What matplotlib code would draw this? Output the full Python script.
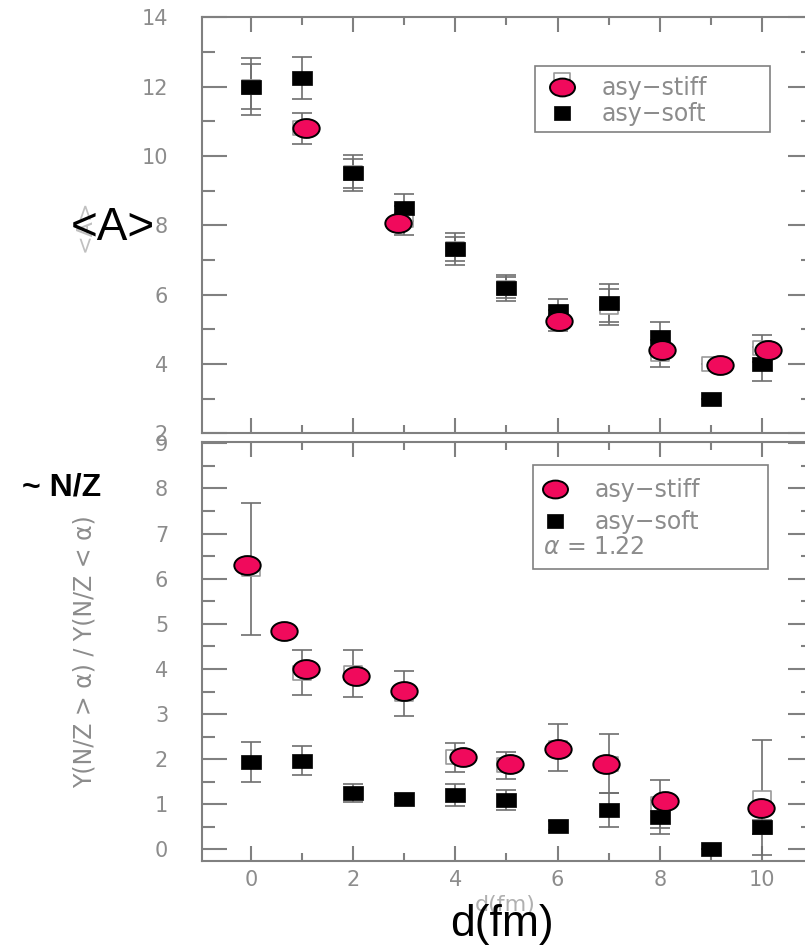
import numpy as np
import matplotlib
matplotlib.use("Agg")
import matplotlib.pyplot as plt
from matplotlib.path import Path
from matplotlib.transforms import Affine2D
from matplotlib.lines import Line2D
from matplotlib.patches import Rectangle
from matplotlib.legend_handler import HandlerTuple
from matplotlib.ticker import MultipleLocator

# ── data ────────────────────────────────────────────────────────────
d = [0, 1, 2, 3, 4, 5, 6, 7, 8, 9, 10]

# <A> panel
top_soft_y = [12.0, 12.25, 9.52, 8.51, 7.32, 6.19, 5.54, 5.75, 4.79, 3.0, 4.0]
top_soft_err = [0.83, 0.6, 0.52, 0.38, 0.47, 0.38, 0.34, 0.55, 0.42, 0.0, 0.5]
top_stiff_y = [12.0, 10.8, 9.5, 8.15, 7.32, 6.2, 5.25, 5.65, 4.3, 4.0, 4.45]
top_stiff_err = [0.65, 0.45, 0.42, 0.42, 0.35, 0.3, 0.3, 0.52, 0.38, 0.0, 0.38]
top_pink_x = [1.07, 2.88, 6.02, 8.05, 9.17, 10.12]
top_pink_y = [10.8, 8.08, 5.23, 4.39, 3.98, 4.4]

# N/Z ratio panel
bot_soft_y = [1.94, 1.97, 1.24, 1.11, 1.20, 1.09, 0.52, 0.87, 0.72, 0.0, 0.50]
bot_soft_err = [0.45, 0.33, 0.2, 0.1, 0.24, 0.22, 0.1, 0.38, 0.37, 0.0, 0.15]
bot_stiff_y = [6.22, 3.92, 3.9, 3.45, 2.04, 1.86, 2.25, 1.9, 1.0, np.nan, 1.15]
bot_stiff_err = [1.46, 0.5, 0.53, 0.5, 0.32, 0.3, 0.52, 0.65, 0.53, 0.0, 1.27]
bot_pink_x = [-0.07, 0.65, 1.08, 2.05, 2.99, 4.14, 5.07, 6.0, 6.95, 8.1, 9.98]
bot_pink_y = [6.30, 4.83, 4.0, 3.85, 3.52, 2.05, 1.90, 2.22, 1.90, 1.08, 0.92]

# ── style ───────────────────────────────────────────────────────────
W, H = 805, 946
GRAY = "#808080"
LABEL = "#8c8c8c"
EBAR = "#6e6e6e"
PINK = "#f00a5c"


def fx(px):
    return px / W


def fy(py):
    return 1 - py / H


ELLIPSE = Path.unit_circle().transformed(Affine2D().scale(1.4, 1.0))
RECT = Path([(-0.65, -0.5), (0.65, -0.5), (0.65, 0.5), (-0.65, 0.5), (-0.65, -0.5)], closed=True)
# same box, lifted above the handle centre (legend only)
RECT_UP = Path([(-0.65, 0.2), (0.65, 0.2), (0.65, 1.2), (-0.65, 1.2), (-0.65, 0.2)], closed=True)
SQ_MS = 13.7
EL_MS = 19


def style_axes(ax):
    for s in ax.spines.values():
        s.set_color(GRAY)
        s.set_linewidth(1.5)
    ax.tick_params(axis="both", which="both", direction="in", top=True, right=True,
                   color=GRAY, width=1.5, labelcolor=LABEL, labelsize=15)
    ax.tick_params(axis="y", which="major", length=18, pad=24)
    ax.tick_params(axis="y", which="minor", length=9)
    ax.tick_params(axis="x", which="major", length=11, pad=7)
    ax.tick_params(axis="x", which="minor", length=5.7)
    ax.xaxis.set_major_locator(MultipleLocator(2))
    ax.xaxis.set_minor_locator(MultipleLocator(1))
    ax.set_xlim(-0.97, 11.0)


def draw_series(ax, soft_y, soft_err, stiff_y, stiff_err, pink_x, pink_y):
    ax.errorbar(d, stiff_y, yerr=stiff_err, fmt="none", ecolor=EBAR, elinewidth=1.2,
                capsize=7, capthick=1.2, zorder=2)
    ax.errorbar(d, soft_y, yerr=soft_err, fmt="none", ecolor=EBAR, elinewidth=1.2,
                capsize=7, capthick=1.2, zorder=2)
    ax.plot(d, stiff_y, ls="none", marker=RECT, ms=SQ_MS - 0.5, mfc="white", mec="#9a9a9a",
            mew=1.2, zorder=3)
    ax.plot(d, soft_y, ls="none", marker=RECT, ms=SQ_MS, mfc="black", mec="black",
            mew=0.5, zorder=4)
    ax.plot(pink_x, pink_y, ls="none", marker=ELLIPSE, ms=EL_MS, mfc=PINK, mec="black",
            mew=1.4, zorder=5)


fig = plt.figure(figsize=(W / 100, H / 100), dpi=100)
ax_top = fig.add_axes([fx(201.5), fy(433.3), (813 - 201.5) / W, 416 / H])
ax_bot = fig.add_axes([fx(201.5), fy(860.7), (813 - 201.5) / W, 418.7 / H])

for ax in (ax_top, ax_bot):
    style_axes(ax)

ax_top.set_ylim(2, 14)
ax_top.yaxis.set_major_locator(MultipleLocator(2))
ax_top.yaxis.set_minor_locator(MultipleLocator(1))
ax_top.tick_params(axis="x", labelbottom=False)

ax_bot.set_ylim(-0.25, 9.03)
ax_bot.yaxis.set_major_locator(MultipleLocator(1))
ax_bot.yaxis.set_minor_locator(MultipleLocator(0.5))

draw_series(ax_top, top_soft_y, top_soft_err, top_stiff_y, top_stiff_err, top_pink_x, top_pink_y)
draw_series(ax_bot, bot_soft_y, bot_soft_err, bot_stiff_y, bot_stiff_err, bot_pink_x, bot_pink_y)

# ── legends ─────────────────────────────────────────────────────────
h_hollow = Line2D([], [], ls="none", marker=RECT_UP, ms=20, mfc="white", mec="#9a9a9a", mew=1.2)
h_pink = Line2D([], [], ls="none", marker=ELLIPSE, ms=EL_MS - 1, mfc=PINK, mec="black", mew=1.4)
h_soft = Line2D([], [], ls="none", marker=RECT, ms=SQ_MS - 1.5, mfc="black", mec="black", mew=0.5)

leg_kw = dict(frameon=False, borderpad=0, borderaxespad=0, handlelength=1.6,
              handletextpad=0.9, fontsize=17, labelcolor=LABEL, loc="upper left",
              bbox_transform=fig.transFigure)

ax_top.legend([(h_hollow, h_pink), h_soft], ["asy\u2212stiff", "asy\u2212soft"],
              handler_map={tuple: HandlerTuple(ndivide=1, pad=0)},
              bbox_to_anchor=(fx(543), fy(76)), labelspacing=0.08, **leg_kw)
ax_bot.legend([h_pink, h_soft], ["asy\u2212stiff", "asy\u2212soft"],
              bbox_to_anchor=(fx(536), fy(478)), labelspacing=0.36, **leg_kw)

for (x0, y0, x1, y1) in [(535, 66, 770, 132), (533, 465, 768, 569)]:
    fig.add_artist(Rectangle((fx(x0), fy(y1)), (x1 - x0) / W, (y1 - y0) / H,
                             transform=fig.transFigure, fill=False,
                             edgecolor=GRAY, linewidth=1.2))

fig.text(fx(543), fy(547), r"$\alpha$ = 1.22", color=LABEL, fontsize=17, va="center")

# ── axis labels ─────────────────────────────────────────────────────
fig.text(fx(85), fy(226), "<A>", rotation=90, color="#c0c0c0", fontsize=16,
         ha="center", va="center")
fig.text(fx(113), fy(228), "<A>", fontsize=33, family="Liberation Sans",
         ha="center", va="center")
fig.text(fx(62), fy(487), "~ N/Z", fontsize=23, weight="bold", family="Liberation Sans",
         ha="center", va="center")
fig.text(fx(85), fy(652), "Y(N/Z > \u03b1) / Y(N/Z < \u03b1)", rotation=90, color=LABEL,
         fontsize=17, ha="center", va="center")
fig.text(fx(505), fy(905), "d(fm)", color="#b0b0b0", fontsize=16, ha="center", va="center")
fig.text(fx(502), fy(924), "d(fm)", fontsize=32, family="Liberation Sans",
         ha="center", va="center")

fig.savefig("out.png", dpi=100, facecolor="white")
